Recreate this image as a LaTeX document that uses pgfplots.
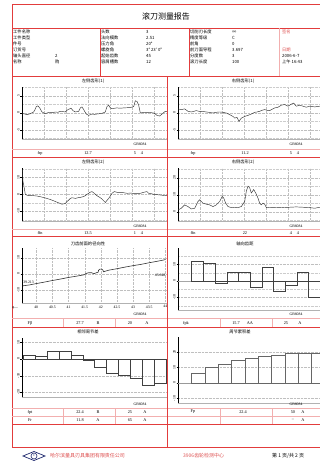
\documentclass[border=0pt]{standalone}
\usepackage{pgfplots}
\pgfplotsset{compat=1.18}
\usepackage{fontspec}
\setmainfont{Liberation Serif}
\newfontfamily\cjk{Noto Sans CJK SC}
\definecolor{rl}{RGB}{226,60,60}
\definecolor{pl}{RGB}{242,175,175}
\definecolor{rt}{RGB}{222,80,80}
\definecolor{navy}{RGB}{30,40,110}
\newcommand{\sm}{\fontsize{4.3}{4.8}\selectfont}
\newcommand{\xs}{\fontsize{3.8}{4.2}\selectfont}
\pgfplotsset{
  panel/.style={scale only axis, width=145bp, axis lines=left,
    axis line style={-, black, line width=0.4pt},
    x axis line style={gray!60},
    tick align=outside,
    major tick length=1.5bp, minor tick length=0pt,
    every tick/.style={black, line width=0.3pt},
    xticklabels={}, x tick style={draw=none},
    tick label style={font=\xs},
    yticklabel style={rotate=90, anchor=south, inner sep=0.6bp},
    /pgf/number format/assume math mode=true,
    grid=both,
    major grid style={gray!50, densely dotted, line width=0.3pt},
    minor grid style={gray!40, densely dotted, line width=0.25pt},
  },
  curve/.style={black!80, line width=0.45pt, mark=none},
  bars/.style={ybar interval, draw=black!75, fill=none, line width=0.45pt, mark=none},
}
\begin{document}
\begin{tikzpicture}
\path[use as bounding box] (0,0) rectangle (320bp,-467bp);
\clip (0,0) rectangle (320bp,-467bp);
\fill[white] (0,0) rectangle (320bp,-467bp);

% ---------- Row 1 ----------
\begin{axis}[panel, at={(22bp,-139bp)}, anchor=south west, height=52bp,
  xmin=0, xmax=145, ymin=-7.65, ymax=7.65,
  xtick={22,44,...,132}, ytick={-5,0,5}, minor ytick={-7.5,-2.5,2.5,7.5}]
\addplot[curve] coordinates {
(0,-0.3)(2,-0.2)(5,-0.5)(8.3,-0.2)(11.7,0.3)(13,1.0)(14.3,1.9)(16,2.1)(17.7,1.5)(19,0.8)(20,0.3)(23.3,-0.2)(26,0.1)(28.3,0.2)(31,0.1)(33.3,0.3)(36,0.2)(38.3,0.5)(41,0.4)(43.3,0.3)(45,0.8)(46.7,1.1)(49,1.4)(51,0.7)(53.3,0.3)(55,0.4)(56.7,0.5)(58.3,1.5)(60,1.8)(61.7,1.0)(63,0.3)(64.3,-0.3)(66.7,-0.7)(70,-0.3)(72.5,-0.4)(75,-0.3)(77.5,-0.2)(80,-0.1)(83.3,0.3)(85,1.9)(86.7,2.3)(88.3,1.5)(90,1.3)(92.5,1.4)(95,1.5)(98,1.4)(101.7,1.5)(105,1.55)(108.3,1.6)(111.7,1.9)(113.3,3.6)(115,3.4)(116.7,2.3)(118.3,0)(120,0.1)(121.7,0.2)(124,0.1)(126.7,0.2)(129,0.1)(131.7,0)(133.3,-0.3)(135,-0.7)(137.7,-0.9)(140,-0.3)(143.3,0.5)(145,0.5)};
\end{axis}
\begin{axis}[panel, at={(178bp,-139bp)}, anchor=south west, height=52bp,
  xmin=0, xmax=145, ymin=-7.65, ymax=7.65,
  xtick={22,44,...,132}, ytick={-5,0,5}, minor ytick={-7.5,-2.5,2.5,7.5}]
\addplot[curve] coordinates {
(0,1.2)(3.3,1.0)(6.7,1.2)(10,0.5)(13.3,0.3)(16,0.5)(18.3,0.7)(21,0.5)(23.3,0.5)(26,0.4)(28.3,0.3)(31,0.2)(35,0)(38,0.2)(41.7,0.3)(45,0.2)(48.3,0)(51.7,-0.5)(55,-1.0)(56.7,-1.5)(59,-1.3)(61,-2.5)(63.3,-1.5)(66.7,-1.0)(70,-0.7)(73.3,-0.3)(76.7,0.2)(79,0.3)(81.7,0.5)(84,0.8)(86.7,1.0)(89,0.8)(91.7,0.7)(94,1.1)(96.7,1.5)(100,1.7)(103.3,2.3)(106.7,2.5)(110,2.0)(113.3,2.6)(115.7,2.9)(118.3,2.0)(121.7,2.3)(125,2.0)(128.3,1.7)(131.7,2.0)(134,1.9)(136.7,1.8)(141.7,2.0)(145,1.9)};
\end{axis}

% ---------- Row 2 ----------
\begin{axis}[panel, at={(22bp,-221bp)}, anchor=south west, height=53bp,
  xmin=0, xmax=145, ymin=-15.7, ymax=15.5,
  xtick={22,44,...,132}, ytick={-10,0,10}, minor ytick={-15,-5,5,15}]
\addplot[curve] coordinates {
(0.3,14.6)(1,7.6)(2.3,3.6)(3.3,0)(5,-0.5)(6.7,-0.8)(9,-0.6)(11.7,-0.8)(15,-1.0)(18.3,-1.4)(21,-1.8)(25,-2.4)(28,-3.0)(31.7,-3.8)(34,-4.4)(36.7,-5)(38,-5.4)(40,-5.8)(43.3,-5.4)(45,-4.2)(46.7,-3.4)(48,-2.6)(50,-2)(52,-2.2)(53.3,-2.4)(56,-2.0)(58.3,-1.8)(61,-1.4)(63.3,-0.8)(65,0)(66.7,0.6)(68,1.2)(70,1.6)(71.5,1.0)(73.3,0)(75,-0.8)(76.7,-1.4)(78.3,-2.0)(80,-2.8)(82,-4)(83.3,-4.8)(85,-3.6)(86.7,-2.4)(88.3,-1.0)(90,0.6)(92.3,1.6)(95,1.2)(98.3,1.2)(101,1.0)(105,0.6)(108,0.7)(111.7,0.6)(115,0.6)(118.3,0.6)(120,0.9)(121.7,1.2)(125,1.6)(126.7,0.6)(129,0.4)(131.7,0)(135,-0.2)(138.3,-0.4)(141,-0.6)(145,-0.8)};
\end{axis}
\begin{axis}[panel, at={(178bp,-221bp)}, anchor=south west, height=53bp,
  xmin=0, xmax=145, ymin=-5.5, ymax=25.7,
  xtick={22,44,...,132}, ytick={0,10,20}, minor ytick={-5,5,15,25}]
\addplot[curve] coordinates {
(0,1)(3.3,2)(6.7,4)(10,3)(13.3,1.6)(16.7,2)(20,6)(21.7,7)(25,5)(28.3,4.4)(31.7,4)(35,3)(38.3,4)(41.7,6)(44.3,9)(45.7,8)(47.7,5)(50,3)(53.3,2.4)(56.7,2.6)(60,2.4)(63.3,3)(66.7,6)(68.3,12)(70,15)(71.7,14)(73.3,11)(75.7,13)(77.7,11)(80,8)(81.7,5)(83.3,4)(85,5)(86.7,4.4)(88.3,2.4)(91.7,2.6)(95,2.5)(98.3,2.6)(105,2.4)(111.7,2.6)(118.3,2.8)(125,2.6)(131.7,2.4)(136.7,2)(141.7,2.6)(145,2.5)};
\end{axis}

% ---------- Row 3 ----------
\begin{axis}[panel, at={(22bp,-303bp)}, anchor=south west, height=55bp,
  xmin=39.56, xmax=44.05, ymin=-18, ymax=16,
  xtick={40,40.5,...,44}, xticklabels={40,40.5,41,41.5,42,42.5,43,43.5,44},
  x tick style={draw=none}, xticklabel style={inner sep=0.8bp},
  ytick={-10,0,10}, minor ytick={}, grid=major]
\addplot[curve, line width=0.6pt] coordinates {
(39.58,-7.4)(39.8,-6.8)(40,-6.0)(40.25,-5.1)(40.5,-4.1)(40.75,-3.2)(41,-2.2)(41.25,-1.4)(41.45,-0.7)(41.5,-0.4)(41.55,0.3)(41.62,0.7)(41.72,0.7)(41.78,0.1)(41.85,0.6)(41.92,1.1)(41.93,2.2)(41.97,2.9)(42.03,2.9)(42.07,2.2)(42.08,1.3)(42.25,2.3)(42.5,3.2)(42.75,4.2)(43,5.1)(43.25,5.9)(43.5,6.9)(43.75,7.8)(43.95,8.6)(44.0,8.9)};
\node[font=\xs, anchor=south west, inner sep=0.5bp] at (axis cs:39.58,-6.4) {39.213};
\node[font=\xs, anchor=east, inner sep=0.5bp] at (axis cs:44.02,-0.6) {43.648};
\end{axis}
\begin{axis}[panel, at={(178bp,-310bp)}, anchor=south west, height=62bp,
  xmin=0, xmax=145, ymin=-17.6, ymax=20,
  xtick=\empty, ytick={-10,0,10}, minor ytick={-15,-5,5,15},
  extra y ticks={0}, extra y tick labels={}, extra y tick style={grid=major, major grid style={gray!70, solid, line width=0.4pt}}]
\addplot[bars] coordinates {
(13.7,12.1)(25.4,10.5)(37.1,-1.4)(48.8,5.3)(60.5,5.1)(72.2,-3.8)(83.9,8.5)(95.6,-6.5)(107.3,-2.8)(119,5.3)(130.7,-9.9)(142.4,-4)(154.1,-4)};
\end{axis}

% ---------- Row 4 ----------
\begin{axis}[panel, at={(22bp,-397bp)}, anchor=south west, height=59bp,
  xmin=0, xmax=145, ymin=-22.8, ymax=12.6,
  xtick=\empty, ytick={-20,-10,0,10}, minor ytick={}, grid=major,
  extra y ticks={0}, extra y tick labels={}, extra y tick style={grid=major, major grid style={gray!70, solid, line width=0.5pt}}]
\addplot[bars] coordinates {
(1.3,2.4)(13.2,1.4)(25.1,4.8)(37,4.8)(48.9,2.0)(60.8,-0.6)(72.7,-5.2)(84.6,-8.4)(96.5,-10)(108.4,-11.4)(120.3,-16)(132.2,-14.4)(144.1,-14.4)};
\end{axis}
\begin{axis}[panel, at={(178bp,-403bp)}, anchor=south west, height=66bp,
  xmin=0, xmax=145, ymin=-12.9, ymax=29.7,
  xtick=\empty, ytick={-10,0,10,20}, minor ytick={}, grid=major,
  extra y ticks={0}, extra y tick labels={}, extra y tick style={grid=major, major grid style={gray!80, solid, line width=0.6pt}}]
\addplot[bars, draw=black!60] coordinates {
(13.7,6.2)(27,10.1)(40.3,12.3)(53.6,14.8)(66.9,16.3)(80.2,17)(93.5,18)(106.8,19.1)(120.1,19.1)(133.4,19.1)(146.7,19.1)};
\end{axis}

% ---------- frame and text ----------
\begin{scope}[x=1bp,y=-1bp]
\draw[rl, line width=0.9bp] (12,4) rectangle (322,447);
\draw[rl, line width=0.9bp] (12,28) -- (322,28);
\draw[rl, line width=0.9bp] (12,76) -- (322,76);
\draw[rl, line width=0.5bp] (100,28) -- (100,76);
\draw[rl, line width=0.5bp] (189,28) -- (189,76);
\draw[pl, line width=0.5bp] (279,28) -- (279,76);
\foreach \y in {149,229,318,408,416} \draw[pl, line width=0.5bp] (12,\y) -- (322,\y);
\foreach \x in {63,115,220,272} {\draw[pl, line width=0.4bp] (\x,318) -- (\x,327); \draw[pl, line width=0.4bp] (\x,408) -- (\x,424);}
\foreach \y in {157,236,327,424} \draw[rl, line width=0.8bp] (12,\y) -- (322,\y);
\draw[rl, line width=0.9bp] (167,76) -- (167,447);

\node[font=\cjk\fontsize{8}{9}\selectfont] at (166,16) {滚刀测量报告};

\begin{scope}[every node/.style={font=\cjk\sm, anchor=base west, inner sep=0pt}]
\node at (13,33.5) {工件名称}; \node at (13,39.5) {工件类型}; \node at (13,45.5) {件号};
\node at (13,51.5) {订货号}; \node at (13,57.5) {轴头直径}; \node at (13,63.5) {名称};
\node at (55,57.5) {2}; \node at (55,63.5) {购};
\node at (101,33.5) {头数}; \node at (101,39.5) {法向模数}; \node at (101,45.5) {压力角};
\node at (101,51.5) {螺旋角}; \node at (101,57.5) {起始齿数}; \node at (101,63.5) {容屑槽数};
\node at (146,33.5) {3}; \node at (146,39.5) {2.51}; \node at (146,45.5) {20°};
\node at (146,51.5) {3° 23' 0"}; \node at (146,57.5) {45}; \node at (146,63.5) {12};
\node at (190,33.5) {切削刃长度}; \node at (190,39.5) {精度等级}; \node at (190,45.5) {前角};
\node at (190,51.5) {前刀面导程}; \node at (190,57.5) {分度数}; \node at (190,63.5) {滚刀长度};
\node at (232,33.5) {∞}; \node at (232,39.5) {C}; \node at (232,45.5) {0};
\node at (232,51.5) {3.697}; \node at (232,57.5) {3}; \node at (232,63.5) {100};
\node[text=rt] at (282,33.5) {签名}; \node[text=rt] at (282,51.5) {日期};
\node at (282,57.5) {2006-6-7}; \node at (282,63.5) {上午 16:43};
\end{scope}

\begin{scope}[every node/.style={font=\cjk\sm, inner sep=0pt}]
\node at (93,81) {左侧齿形(1)}; \node at (243,81) {右侧齿形(1)};
\node at (93,162) {左侧齿形(2)}; \node at (243,162) {右侧齿形(2)};
\node at (88,244) {刀齿前面的径向性}; \node at (245,244) {轴向齿距};
\node at (88,332) {相邻周节差}; \node at (240,332) {周节累积差};
\end{scope}

\begin{scope}[every node/.style={font=\xs, inner sep=0pt}]
\node at (140,144) {GB6084}; \node at (296,144) {GB6084};
\node at (140,226) {GB6084}; \node at (296,226) {GB6084};
\node at (140,314) {GB6084}; \node at (296,314) {GB6084};
\node at (140,404) {GB6084}; \node at (296,404) {GB6084};
\node at (15,308) {φ—};
\end{scope}

\begin{scope}[every node/.style={font=\sm, inner sep=0pt}]
\node at (40,153) {frp}; \node at (88,153) {12.7}; \node at (135,153) {5}; \node at (142,153) {4};
\node at (193,153) {frp}; \node at (245,153) {11.2}; \node at (291,153) {5}; \node at (298,153) {4};
\node at (40,233) {ffn}; \node at (88,233) {13.5}; \node at (135,233) {1}; \node at (142,233) {4};
\node at (193,233) {ffn}; \node at (245,233) {22}; \node at (291,233) {4}; \node at (298,233) {4};
\node at (30,323) {Fβ}; \node at (80,323) {27.7}; \node at (98,323) {B}; \node at (130,323) {20}; \node at (147,323) {A};
\node at (186,323) {fpk}; \node at (236,323) {15.7}; \node at (250,323) {AA}; \node at (286,323) {25}; \node at (300,323) {A};
\node at (30,412) {fpt}; \node at (80,412) {22.4}; \node at (98,412) {B}; \node at (130,412) {25}; \node at (145,412) {A};
\node at (30,420) {Fr}; \node at (80,420) {11.8}; \node at (98,420) {A}; \node at (130,420) {65}; \node at (145,420) {A};
\node at (193,412) {Fp}; \node at (243,412) {22.4}; \node at (293,412) {50}; \node at (303,412) {A};
\node at (293,420) {--}; \node at (303,420) {A};
\end{scope}

% footer
\draw[navy, line width=0.7bp] (23,456) -- (34,451.5) -- (45,456) -- (34,460.5) -- cycle;
\draw[navy, line width=0.6bp] (34,456) circle (3);
\node[font=\fontsize{3}{3}\selectfont, text=navy, inner sep=0] at (34,456) {C};
\node[font=\cjk\fontsize{5}{6}\selectfont, text=rt, anchor=west, inner sep=0] at (50,456) {哈尔滨量具刃具集团有限责任公司};
\node[font=\cjk\fontsize{5}{6}\selectfont, text=rt, anchor=west, inner sep=0] at (183,456) {3906齿轮检测中心};
\node[font=\cjk\fontsize{5}{6}\selectfont, anchor=west, inner sep=0] at (272,456) {第 1 页/共 2 页};
\end{scope}
\end{tikzpicture}
\end{document}
